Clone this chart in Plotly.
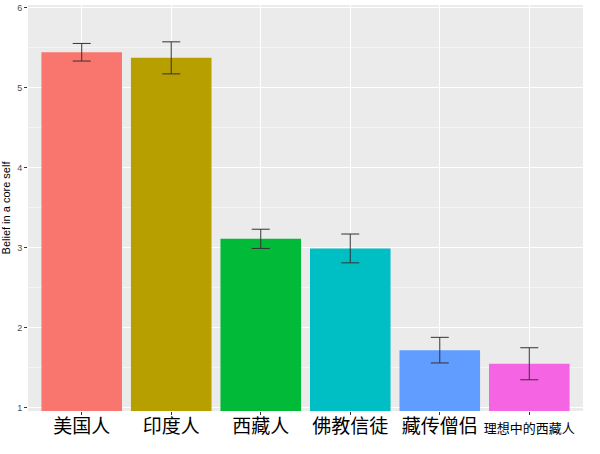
import plotly.graph_objects as go

# 数据
groups = ["美国人", "印度人", "西藏人", "佛教信徒", "藏传僧侣", "理想中的西藏人"]
means = [5.44, 5.37, 3.11, 2.99, 1.72, 1.55]
errors = [0.11, 0.20, 0.12, 0.18, 0.16, 0.20]
colors = ["#F8766D", "#B79F00", "#00BA38", "#00BFC4", "#619CFF", "#F564E3"]

positions = list(range(1, len(groups) + 1))
tick_text = groups[:-1] + ['<span style="font-size:13px">' + groups[-1] + '</span>']

fig = go.Figure(
    go.Bar(
        x=positions,
        y=means,
        width=0.9,
        marker=dict(color=colors, line=dict(width=0)),
        error_y=dict(type="data", array=errors, color="#333333", thickness=1, width=9),
    )
)

fig.update_layout(
    width=600,
    height=454,
    margin=dict(l=28, r=17, t=5, b=43, autoexpand=False),
    plot_bgcolor="#EBEBEB",
    paper_bgcolor="white",
    showlegend=False,
    font=dict(family="Noto Sans CJK SC, Liberation Sans, Arial", color="black"),
)

fig.update_xaxes(
    range=[0.4, 6.6],
    tickvals=positions,
    ticktext=tick_text,
    tickfont=dict(size=19, color="black", family="Noto Sans CJK SC"),
    ticklabelstandoff=-5,
    showgrid=True,
    gridcolor="white",
    gridwidth=1.1,
    ticks="outside",
    ticklen=3,
    tickcolor="#333333",
    zeroline=False,
    showline=False,
    automargin=False,
)

fig.update_yaxes(
    range=[0.96, 6.03],
    tickvals=[1, 2, 3, 4, 5, 6],
    tickfont=dict(size=9, color="#4D4D4D", family="Liberation Sans"),
    ticks="outside",
    ticklen=3,
    tickcolor="#333333",
    showgrid=True,
    gridcolor="white",
    gridwidth=1.1,
    minor=dict(tickvals=[1.5, 2.5, 3.5, 4.5, 5.5], showgrid=True, gridcolor="#F5F5F5", gridwidth=0.6),
    zeroline=False,
    showline=False,
    automargin=False,
    title=dict(text="Belief in a core self", font=dict(size=11, color="black", family="Liberation Sans"), standoff=7),
)

# 去掉页面默认边距
fig.write_html(
    "out.html",
    config={"displayModeBar": False},
    post_script="document.body.style.margin='0px';",
)
